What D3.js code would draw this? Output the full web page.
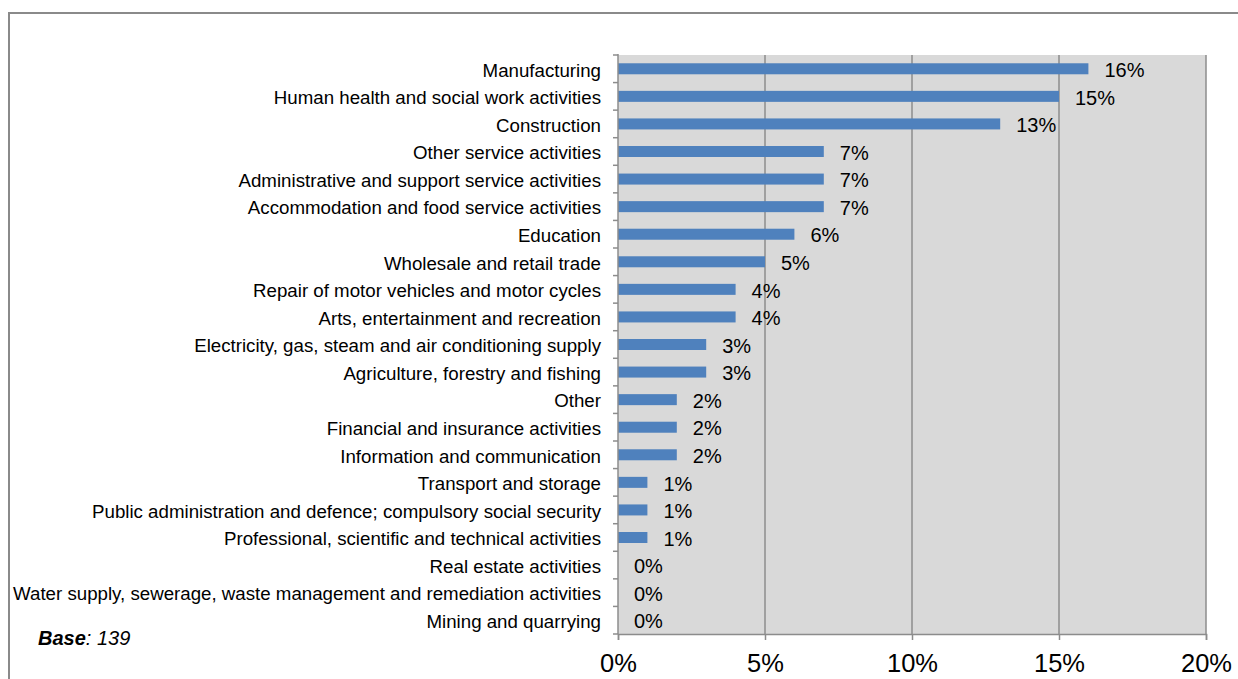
<!DOCTYPE html>
<html>
<head>
<meta charset="utf-8">
<script src="https://cdn.jsdelivr.net/npm/d3@7"></script>
<style>
  html, body { margin: 0; padding: 0; background: #fff; }
  svg { display: block; font-family: "Liberation Sans", Arial, sans-serif; }
</style>
</head>
<body>
<svg id="chart" width="1238" height="679"></svg>
<script>
// Sectors, in display order (top to bottom)
const categories = [
  "Manufacturing",
  "Human health and social work activities",
  "Construction",
  "Other service activities",
  "Administrative and support service activities",
  "Accommodation and food service activities",
  "Education",
  "Wholesale and retail trade",
  "Repair of motor vehicles and motor cycles",
  "Arts, entertainment and recreation",
  "Electricity, gas, steam and air conditioning supply",
  "Agriculture, forestry and fishing",
  "Other",
  "Financial and insurance activities",
  "Information and communication",
  "Transport and storage",
  "Public administration and defence; compulsory social security",
  "Professional, scientific and technical activities",
  "Real estate activities",
  "Water supply, sewerage, waste management and remediation activities",
  "Mining and quarrying"
];
// Share of respondents, percent
const values = [16, 15, 13, 7, 7, 7, 6, 5, 4, 4, 3, 3, 2, 2, 2, 1, 1, 1, 0, 0, 0];
const xTicks = [0, 5, 10, 15, 20];
const baseCount = 139;

const svg = d3.select("#chart");
const margin = { left: 618, right: 1238 - 1206, top: 55, bottom: 679 - 634 };
const width = 1238, height = 679;

// Outer frame (top and left edges visible)
svg.append("path")
  .attr("d", `M9,${height + 5} V13 H${width + 5}`)
  .attr("fill", "none")
  .attr("stroke", "#8a8a8a")
  .attr("stroke-width", 2);

const x = d3.scaleLinear().domain([0, 20]).range([margin.left, width - margin.right]);
const yOuter = d3.scaleBand().domain(categories).range([margin.top, height - margin.bottom]);

// Plot background
svg.append("rect")
  .attr("x", x(0)).attr("y", margin.top)
  .attr("width", x(20) - x(0)).attr("height", height - margin.bottom - margin.top)
  .attr("fill", "#d9d9d9");

// Vertical gridlines
svg.append("g").selectAll("line")
  .data(xTicks.filter(d => d > 0))
  .join("line")
  .attr("x1", d => x(d)).attr("x2", d => x(d))
  .attr("y1", margin.top).attr("y2", height - margin.bottom)
  .attr("stroke", "#8c8c8c").attr("stroke-width", 1.5);

// Bars
svg.append("g").selectAll("rect")
  .data(values)
  .join("rect")
  .attr("x", x(0))
  .attr("y", (d, i) => yOuter(categories[i]) + yOuter.bandwidth() / 2 - 5.5)
  .attr("width", d => x(d) - x(0))
  .attr("height", 11)
  .attr("fill", "#4f81bd");

// Value labels
svg.append("g").selectAll("text")
  .data(values)
  .join("text")
  .attr("x", d => x(d) + 16)
  .attr("y", (d, i) => yOuter(categories[i]) + yOuter.bandwidth() / 2 + 1)
  .attr("dy", "0.36em")
  .attr("font-size", 20)
  .attr("fill", "#000")
  .text(d => d + "%");

// Y axis: category labels with tick marks at band boundaries
const yAxisG = svg.append("g");
yAxisG.append("line")
  .attr("x1", x(0)).attr("x2", x(0))
  .attr("y1", margin.top - 1).attr("y2", height - margin.bottom)
  .attr("stroke", "#8c8c8c").attr("stroke-width", 1.5);
yAxisG.selectAll("line.tick")
  .data(categories.concat([null]))
  .join("line")
  .attr("class", "tick")
  .attr("x1", x(0) - 5).attr("x2", x(0))
  .attr("y1", (d, i) => margin.top + i * yOuter.step())
  .attr("y2", (d, i) => margin.top + i * yOuter.step())
  .attr("stroke", "#8c8c8c").attr("stroke-width", 1.5);
yAxisG.selectAll("text")
  .data(categories)
  .join("text")
  .attr("x", x(0) - 17)
  .attr("y", d => yOuter(d) + yOuter.bandwidth() / 2 + 1)
  .attr("dy", "0.36em")
  .attr("text-anchor", "end")
  .attr("font-size", 18.7)
  .attr("fill", "#000")
  .text(d => d);

// X axis
const xAxis = d3.axisBottom(x)
  .tickValues(xTicks)
  .tickSize(6)
  .tickPadding(14)
  .tickFormat(d => d + "%");
const xg = svg.append("g")
  .attr("transform", `translate(0,${height - margin.bottom})`)
  .call(xAxis);
xg.select(".domain").attr("stroke", "#8c8c8c").attr("stroke-width", 1.5);
xg.selectAll(".tick line").attr("stroke", "#8c8c8c").attr("stroke-width", 1.5);
xg.selectAll(".tick text")
  .attr("font-size", 25.5)
  .attr("font-family", "Liberation Sans, Arial, sans-serif")
  .attr("fill", "#000");

// Base note
const note = svg.append("text")
  .attr("x", 38).attr("y", 645)
  .attr("font-size", 20)
  .attr("font-style", "italic")
  .attr("fill", "#000");
note.append("tspan").attr("font-weight", "bold").text("Base");
note.append("tspan").text(": " + baseCount);
</script>
</body>
</html>
